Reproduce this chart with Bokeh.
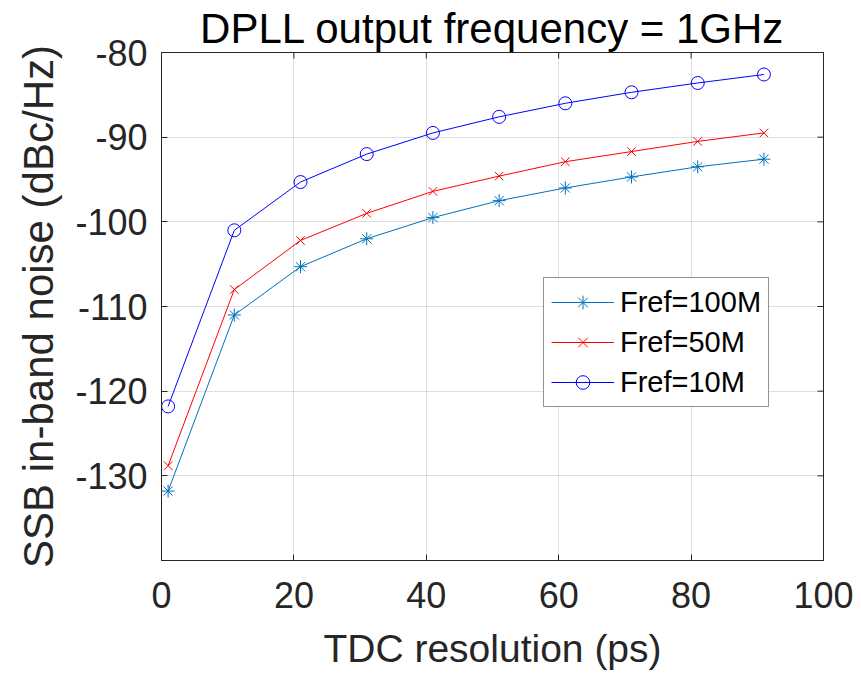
import math
from bokeh.plotting import figure
from bokeh.models import Range1d, FixedTicker, Legend, PrintfTickFormatter
from bokeh.embed import file_html
from bokeh.resources import INLINE

# ---- data ----
tdc_ps = [1, 11, 21, 31, 41, 51, 61, 71, 81, 91]
noise_100M = [-131.8, -111.0, -105.3, -102.0, -99.5, -97.5, -96.0, -94.7, -93.5, -92.6]
noise_50M = [-128.8, -108.0, -102.2, -99.0, -96.4, -94.6, -92.9, -91.7, -90.5, -89.5]
noise_10M = [-121.8, -101.0, -95.3, -92.0, -89.5, -87.6, -86.0, -84.7, -83.6, -82.6]
x_ticks = [0, 20, 40, 60, 80, 100]
y_ticks = [-130, -120, -110, -100, -90, -80]
x_lim = (0, 100)
y_lim = (-140, -80)
title_text = "DPLL output frequency = 1GHz"
x_label = "TDC resolution (ps)"
y_label = "SSB in-band noise (dBc/Hz)"

FONT = "Liberation Sans"
AX = "#262626"

p = figure(width=855, height=672, output_backend="svg", toolbar_location=None,
           x_range=Range1d(*x_lim), y_range=Range1d(*y_lim),
           min_border_left=161, min_border_right=32, min_border_top=52,
           min_border_bottom=112)
p.background_fill_color = "white"
p.border_fill_color = "white"
p.outline_line_color = AX
p.outline_line_width = 1

p.title.text = title_text
p.title.text_font = FONT
p.title.text_font_size = "42px"
p.title.text_font_style = "normal"
p.title.text_color = "black"
p.title.align = "center"
p.title.standoff = 2
p.title.offset = 0

for ax, ticks in ((p.xaxis[0], x_ticks), (p.yaxis[0], y_ticks)):
    ax.ticker = FixedTicker(ticks=ticks)
    ax.formatter = PrintfTickFormatter(format="%d")
    ax.axis_line_color = AX
    ax.major_tick_line_color = AX
    ax.major_tick_in = 6
    ax.major_tick_out = 0
    ax.minor_tick_line_color = None
    ax.major_label_text_font = FONT
    ax.major_label_text_font_size = "36px"
    ax.major_label_text_color = AX
    ax.axis_label_text_font = FONT
    ax.axis_label_text_font_style = "normal"
    ax.axis_label_text_color = AX

p.xaxis.axis_label = x_label
p.yaxis.axis_label = y_label
p.xaxis.axis_label_text_font_size = "39px"
p.yaxis.axis_label_text_font_size = "42px"
p.xaxis.major_label_standoff = 21
p.yaxis.major_label_standoff = 14
p.xaxis.axis_label_standoff = 16
p.yaxis.axis_label_standoff = 10

p.xgrid.ticker = FixedTicker(ticks=x_ticks)
p.ygrid.ticker = FixedTicker(ticks=y_ticks)
p.grid.grid_line_color = AX
p.grid.grid_line_alpha = 0.15

# top and right inward ticks (box on)
p.ray(x=x_ticks, y=[y_lim[1]] * len(x_ticks), length=6, length_units="screen",
      angle=-math.pi / 2, line_color=AX, line_width=1)
p.ray(x=[x_lim[1]] * len(y_ticks), y=y_ticks, length=6, length_units="screen",
      angle=math.pi, line_color=AX, line_width=1)

series = [
    ("Fref=100M", noise_100M, "#0072BD", "asterisk", 13),
    ("Fref=50M", noise_50M, "#FF0000", "x", 12),
    ("Fref=10M", noise_10M, "#0000FF", "circle", 13),
]
items = []
for name, ys, col, mk, sz in series:
    r1 = p.line(tdc_ps, ys, line_color=col, line_width=1)
    r2 = p.scatter(tdc_ps, ys, marker=mk, size=sz, line_color=col,
                   fill_color=None, line_width=1)
    items.append((name, [r1, r2]))

legend = Legend(items=items, location=(382, 153))
legend.label_text_font = FONT
legend.label_text_font_size = "29px"
legend.label_text_color = "black"
legend.glyph_width = 63
legend.glyph_height = 34
legend.label_height = 34
legend.spacing = 6
legend.padding = 7
legend.margin = 0
legend.label_standoff = 6
legend.border_line_color = AX
legend.border_line_width = 1
legend.background_fill_color = "white"
legend.background_fill_alpha = 1
p.add_layout(legend)

open("out.html", "w").write(file_html(p, INLINE))
